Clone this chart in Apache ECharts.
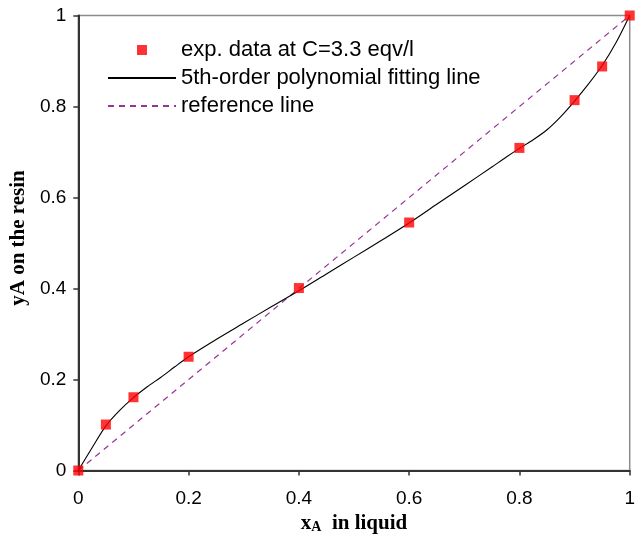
<!DOCTYPE html>
<html>
<head>
<meta charset="utf-8">
<script src="https://cdn.jsdelivr.net/npm/echarts@6/dist/echarts.min.js"></script>
<style>
html,body{margin:0;padding:0;background:#fff;}
#c{width:638px;height:542px;}
</style>
</head>
<body>
<div id="c"></div>
<script>
// Experimental data
var expX = [0, 0.05, 0.1, 0.2, 0.4, 0.6, 0.8, 0.9, 0.95, 1];
var expY = [0, 0.101, 0.161, 0.25, 0.401, 0.545, 0.709, 0.814, 0.888, 1];
// 5th-order polynomial fitting line
var fitX = [0, 0.025, 0.05, 0.075, 0.1, 0.125, 0.15, 0.175, 0.2, 0.25, 0.3, 0.35, 0.4, 0.45, 0.5, 0.55, 0.6, 0.65, 0.7, 0.75, 0.775, 0.8, 0.825, 0.85, 0.875, 0.9, 0.925, 0.95, 0.975, 1];
var fitY = [0, 0.05, 0.098, 0.132, 0.16, 0.184, 0.205, 0.228, 0.25, 0.288, 0.324, 0.36, 0.395, 0.432, 0.469, 0.506, 0.544, 0.585, 0.626, 0.667, 0.688, 0.708, 0.727, 0.749, 0.778, 0.812, 0.849, 0.89, 0.94, 1];
// Reference line
var refX = [0, 1];
var refY = [0, 1];
// Axis ticks
var axisMin = 0, axisMax = 1, axisStep = 0.2;
var seriesNames = ['exp. data at C=3.3 eqv/l', '5th-order polynomial fitting line', 'reference line'];

function pairs(xs, ys) { return xs.map(function (x, i) { return [x, ys[i]]; }); }

var sans = "'Liberation Sans', Arial, sans-serif";
var serif = "'Liberation Serif', 'Times New Roman', serif";
var clear = 'rgba(0,0,0,0)';

var chart = echarts.init(document.getElementById('c'), null, {renderer: 'canvas'});
chart.setOption({
  animation: false,
  backgroundColor: '#fff',
  grid: {
    left: 78, right: 3.5, top: 15.5, bottom: 71.5,
    show: true, borderColor: '#8c8c8c', borderWidth: 1.5, backgroundColor: 'transparent'
  },
  legend: {
    orient: 'vertical',
    left: 107, top: 39,
    padding: 0,
    itemWidth: 68, itemHeight: 10, itemGap: 6,
    textStyle: {fontFamily: sans, fontSize: 22, color: '#000', lineHeight: 22},
    data: [
      {name: seriesNames[0], icon: 'path://M0 0H10V10H0Z'},
      {name: seriesNames[1]},
      {name: seriesNames[2]}
    ],
    symbolKeepAspect: true
  },
  xAxis: {
    type: 'value', min: axisMin, max: axisMax, interval: axisStep,
    axisLine: {show: true, onZero: false, lineStyle: {color: '#333', width: 2}},
    axisTick: {show: true, length: 5, lineStyle: {color: '#333', width: 1.5}},
    axisLabel: {margin: 19, fontFamily: sans, fontSize: 19, color: '#000'},
    splitLine: {show: false},
    name: '{b|x}{s|A}{b|  in liquid}',
    nameLocation: 'middle', nameGap: 42,
    nameTextStyle: {
      rich: {
        b: {fontFamily: serif, fontWeight: 'bold', fontSize: 21, color: '#000', verticalAlign: 'bottom', lineHeight: 22},
        s: {fontFamily: serif, fontWeight: 'bold', fontSize: 14, color: '#000', verticalAlign: 'bottom', lineHeight: 19}
      }
    }
  },
  yAxis: {
    type: 'value', min: axisMin, max: axisMax, interval: axisStep,
    axisLine: {show: true, onZero: false, lineStyle: {color: '#333', width: 2}},
    axisTick: {show: true, length: 5, lineStyle: {color: '#333', width: 1.5}},
    axisLabel: {margin: 12, fontFamily: sans, fontSize: 19, color: '#000'},
    splitLine: {show: false},
    name: 'yA on the resin',
    nameLocation: 'middle', nameGap: 39,
    nameTextStyle: {fontFamily: serif, fontWeight: 'bold', fontSize: 21, color: '#000', padding: [0, 0, 0, 10]}
  },
  series: [
    {
      name: seriesNames[2], type: 'line', data: pairs(refX, refY),
      showSymbol: false, symbol: 'circle', clip: false, z: 2,
      lineStyle: {color: '#993399', width: 1.2, type: [6, 5]},
      itemStyle: {color: clear, borderColor: clear, borderWidth: 0}
    },
    {
      name: seriesNames[1], type: 'line', data: pairs(fitX, fitY),
      showSymbol: false, symbol: 'circle', smooth: 0.3, clip: false, z: 3,
      lineStyle: {color: '#000', width: 1.1},
      itemStyle: {color: clear, borderColor: clear, borderWidth: 0}
    },
    {
      name: seriesNames[0], type: 'scatter', data: pairs(expX, expY),
      symbol: 'rect', symbolSize: 10, clip: false, z: 4,
      itemStyle: {color: '#ff0000'}
    }
  ]
});
</script>
</body>
</html>
